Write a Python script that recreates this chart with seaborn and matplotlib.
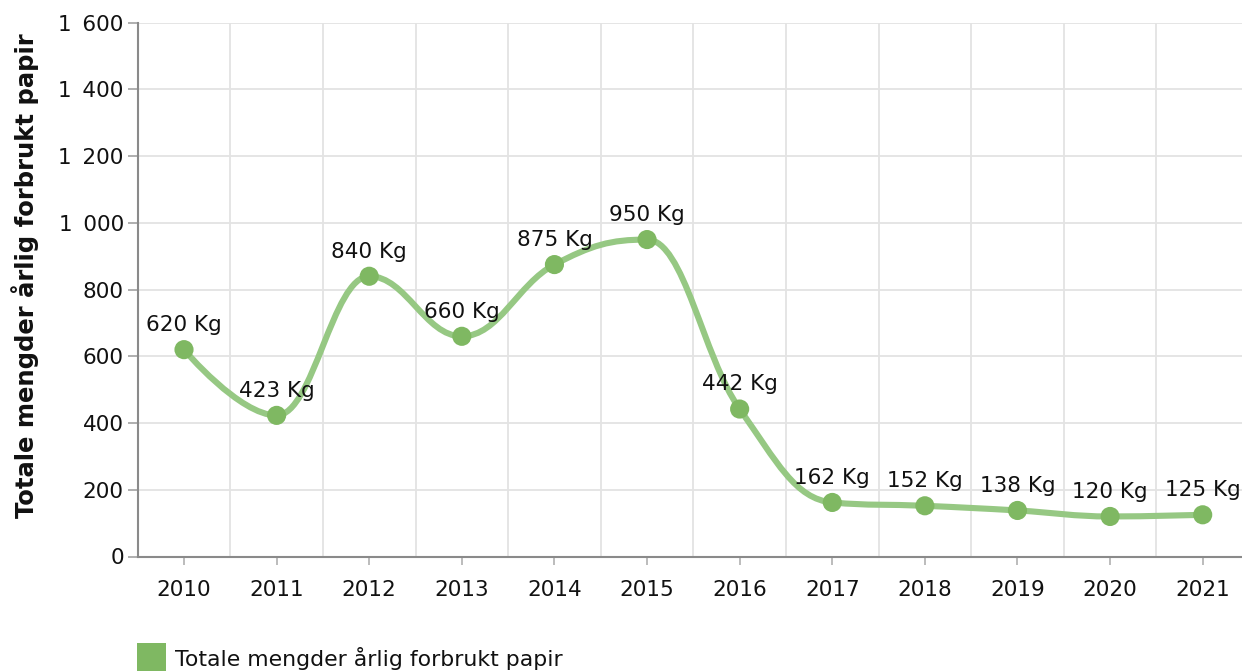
import numpy as np
import pandas as pd
import matplotlib
matplotlib.use("Agg")
import matplotlib.pyplot as plt
from matplotlib.path import Path
from matplotlib.patches import PathPatch, Rectangle
import seaborn as sns

# ---- data ----
years = [2010, 2011, 2012, 2013, 2014, 2015, 2016, 2017, 2018, 2019, 2020, 2021]
values = [620, 423, 840, 660, 875, 950, 442, 162, 152, 138, 120, 125]
labels = [f"{v} Kg" for v in values]
series_name = "Totale mengder årlig forbrukt papir"
y_ticks = [0, 200, 400, 600, 800, 1000, 1200, 1400, 1600]

df = pd.DataFrame({"year": years, "value": values})

line_color = "#96c883"
marker_color = "#7fb862"

sns.set_theme(style="white")
plt.rcParams["font.family"] = ["DejaVu Sans"]

W, H = 1242, 671
fig = plt.figure(figsize=(W / 100, H / 100), dpi=100)
left_px, right_px, top_px, bot_px = 137.7, 1249.0, 22.7, 556.5
ax = fig.add_axes([left_px / W, 1 - bot_px / H, (right_px - left_px) / W, (bot_px - top_px) / H])


def spline_path(xs, ys, smoothing=1.5):
    n = len(xs)
    denom = smoothing + 1
    lc = [None] * n
    rc = [None] * n
    for i in range(1, n - 1):
        px, py = xs[i], ys[i]
        lx, ly = xs[i - 1], ys[i - 1]
        nx, ny = xs[i + 1], ys[i + 1]
        lcx = (smoothing * px + lx) / denom
        lcy = (smoothing * py + ly) / denom
        rcx = (smoothing * px + nx) / denom
        rcy = (smoothing * py + ny) / denom
        corr = ((rcy - lcy) * (rcx - px)) / (rcx - lcx) + py - rcy
        lcy += corr
        rcy += corr
        if lcy > ly and lcy > py:
            lcy = max(ly, py); rcy = 2 * py - lcy
        elif lcy < ly and lcy < py:
            lcy = min(ly, py); rcy = 2 * py - lcy
        if rcy > ny and rcy > py:
            rcy = max(ny, py); lcy = 2 * py - rcy
        elif rcy < ny and rcy < py:
            rcy = min(ny, py); lcy = 2 * py - rcy
        lc[i] = (lcx, lcy)
        rc[i] = (rcx, rcy)
    verts = [(xs[0], ys[0])]
    codes = [Path.MOVETO]
    for i in range(1, n):
        c1 = rc[i - 1] if rc[i - 1] is not None else (xs[i - 1], ys[i - 1])
        c2 = lc[i] if lc[i] is not None else (xs[i], ys[i])
        verts += [c1, c2, (xs[i], ys[i])]
        codes += [Path.CURVE4] * 3
    return Path(verts, codes)


path = spline_path([float(v) for v in years], [float(v) for v in values])
ax.add_patch(PathPatch(path, facecolor="none", edgecolor=line_color, lw=4.4,
                       transform=ax.transData, zorder=3, capstyle="round"))

sns.scatterplot(data=df, x="year", y="value", ax=ax, s=190, color=marker_color,
                edgecolor="none", zorder=4, legend=False)

for x, y, t in zip(years, values, labels):
    ax.annotate(t, (x, y), xytext=(0, 10.5), textcoords="offset points",
                ha="center", va="bottom", fontsize=15.5, color="#111111", zorder=5)

ax.set_xlim(years[0] - 0.5, years[-1] + 0.5)
ax.set_ylim(0, 1600)
ax.set_xticks(years)
ax.set_xticklabels([str(y) for y in years])
ax.set_xticks([y - 0.5 for y in years] + [years[-1] + 0.5], minor=True)
ax.set_yticks(y_ticks)
ax.set_yticklabels([f"{v:,}".replace(",", "\u2002") for v in y_ticks])

ax.grid(False)
ax.yaxis.grid(True, color="#e3e3e3", lw=1.3)
ax.xaxis.grid(True, which="minor", color="#e3e3e3", lw=1.3)
ax.set_axisbelow(True)

for s in ["top", "right"]:
    ax.spines[s].set_visible(False)
ax.spines["left"].set_color("#8a8a8a")
ax.spines["bottom"].set_color("#8a8a8a")
ax.spines["left"].set_linewidth(1.5)
ax.spines["bottom"].set_linewidth(1.5)

ax.tick_params(axis="y", which="major", direction="out", length=7, width=1.1,
               color="#9a9a9a", labelsize=15.5, labelcolor="#111111", pad=3, left=True)
ax.tick_params(axis="x", which="major", direction="out", length=6, width=1.1,
               color="#aaaaaa", labelsize=15.5, labelcolor="#111111", pad=11, bottom=True)
ax.tick_params(axis="x", which="minor", length=0)

ax.set_xlabel("")
ax.set_ylabel("")
fig.text(25 / W, 1 - 276 / H, series_name, rotation=90, ha="center", va="center",
         fontsize=17.5, fontweight="bold", color="#111111")

# legend (manual, bottom-left)
fig.patches.append(Rectangle((137 / W, 1 - 671 / H - 0.01), 29 / W, 28 / H + 0.01,
                             transform=fig.transFigure, facecolor=marker_color,
                             edgecolor="none"))
fig.text(175 / W, 1 - 659 / H, series_name, ha="left", va="center",
         fontsize=15.8, color="#111111")

fig.savefig("out.png", dpi=100)
